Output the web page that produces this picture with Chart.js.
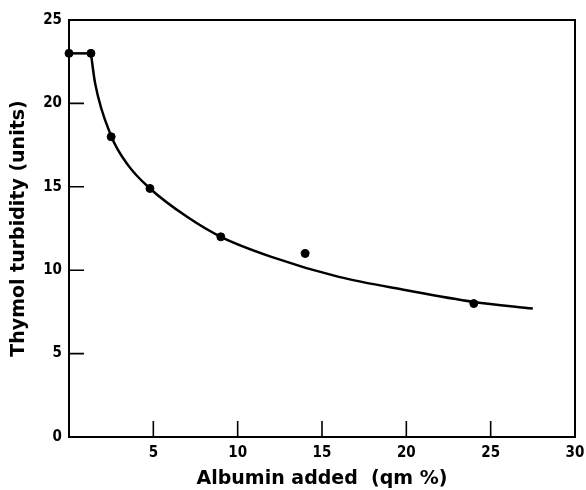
<!DOCTYPE html>
<html>
<head>
<meta charset="utf-8">
<script src="https://cdn.jsdelivr.net/npm/chart.js@4/dist/chart.umd.min.js"></script>
<style>
  html, body { margin: 0; padding: 0; background: #fff; }
  #wrap { width: 586px; height: 490px; }
</style>
</head>
<body>
<div id="wrap"><canvas id="turbChart" width="586" height="490"></canvas></div>
<script>
// measured points (albumin gm %, thymol units)
const albumin = [0, 1.3, 2.5, 4.8, 9, 14, 24];
const turbidity = [23, 23, 18, 14.9, 12, 11, 8];

// plateau before the drop
const flatX = [0, 1.3];
const flatY = [23, 23];

// smooth curve
const curveX = [1.3, 1.55, 2.5, 3.5, 4.8, 7, 9, 12, 16, 20, 24, 27.5];
const curveY = [23, 21.2, 18.05, 16.3, 14.9, 13.2, 12, 10.8, 9.6, 8.8, 8.1, 7.7];

const xTicks = [0, 5, 10, 15, 20, 25, 30];
const yTicks = [0, 5, 10, 15, 20, 25];

const toXY = (xs, ys) => xs.map((x, i) => ({ x: x, y: ys[i] }));

const tickFont = '"DejaVu Sans Condensed", "DejaVu Sans", sans-serif';
const titleFont = '"DejaVu Sans", sans-serif';

// box frame and inward tick marks
const framePlugin = {
    id: 'frame',
    afterDraw(chart) {
        const ctx = chart.ctx;
        const a = chart.chartArea;
        const xs = chart.scales.x, ys = chart.scales.y;
        ctx.save();
        ctx.strokeStyle = '#000';
        ctx.lineWidth = 2;
        ctx.strokeRect(a.left, a.top, a.right - a.left, a.bottom - a.top);
        ctx.lineWidth = 1.6;
        ctx.beginPath();
        xTicks.slice(1, -1).forEach(v => {
            const px = xs.getPixelForValue(v);
            ctx.moveTo(px, a.bottom);
            ctx.lineTo(px, a.bottom - 16);
        });
        yTicks.slice(1, -1).forEach(v => {
            const py = ys.getPixelForValue(v);
            ctx.moveTo(a.left, py);
            ctx.lineTo(a.left + 15, py);
        });
        ctx.stroke();
        ctx.restore();
    }
};

new Chart(document.getElementById('turbChart').getContext('2d'), {
    type: 'scatter',
    data: {
        datasets: [
            {
                data: toXY(flatX, flatY),
                showLine: true,
                borderColor: '#000',
                borderWidth: 2.5,
                pointRadius: 0
            },
            {
                data: toXY(curveX, curveY),
                showLine: true,
                borderColor: '#000',
                borderWidth: 2.5,
                pointRadius: 0,
                cubicInterpolationMode: 'monotone'
            },
            {
                data: toXY(albumin, turbidity),
                backgroundColor: '#000',
                borderColor: '#000',
                pointRadius: 4,
                showLine: false,
                clip: false
            }
        ]
    },
    options: {
        responsive: false,
        animation: false,
        layout: { padding: { top: 20, right: 11, left: 0, bottom: 0 } },
        plugins: {
            legend: { display: false },
            tooltip: { enabled: false }
        },
        scales: {
            x: {
                type: 'linear',
                min: 0,
                max: 30,
                afterFit(s) { s.height = 53; s.paddingRight = 0; },
                afterBuildTicks(s) { s.ticks = xTicks.map(v => ({ value: v })); },
                grid: { display: false, drawTicks: false },
                border: { display: false },
                ticks: {
                    color: '#000',
                    padding: 7,
                    font: { family: tickFont, size: 15, weight: 'bold' },
                    callback: v => (v === 0 ? '' : v)
                },
                title: {
                    display: true,
                    text: 'Albumin added  (qm %)',
                    color: '#000',
                    padding: { top: 3, bottom: 0 },
                    font: { family: titleFont, size: 19, weight: 'bold' }
                }
            },
            y: {
                type: 'linear',
                min: 0,
                max: 25,
                afterFit(s) { s.width = 69; },
                afterBuildTicks(s) { s.ticks = yTicks.map(v => ({ value: v })); },
                grid: { display: false, drawTicks: false },
                border: { display: false },
                ticks: {
                    color: '#000',
                    padding: 7,
                    font: { family: tickFont, size: 15, weight: 'bold' }
                },
                title: {
                    display: true,
                    text: 'Thymol turbidity (units)',
                    color: '#000',
                    padding: { top: 8, bottom: 4 },
                    font: { family: titleFont, size: 19, weight: 'bold' }
                }
            }
        }
    },
    plugins: [framePlugin]
});
</script>
</body>
</html>
